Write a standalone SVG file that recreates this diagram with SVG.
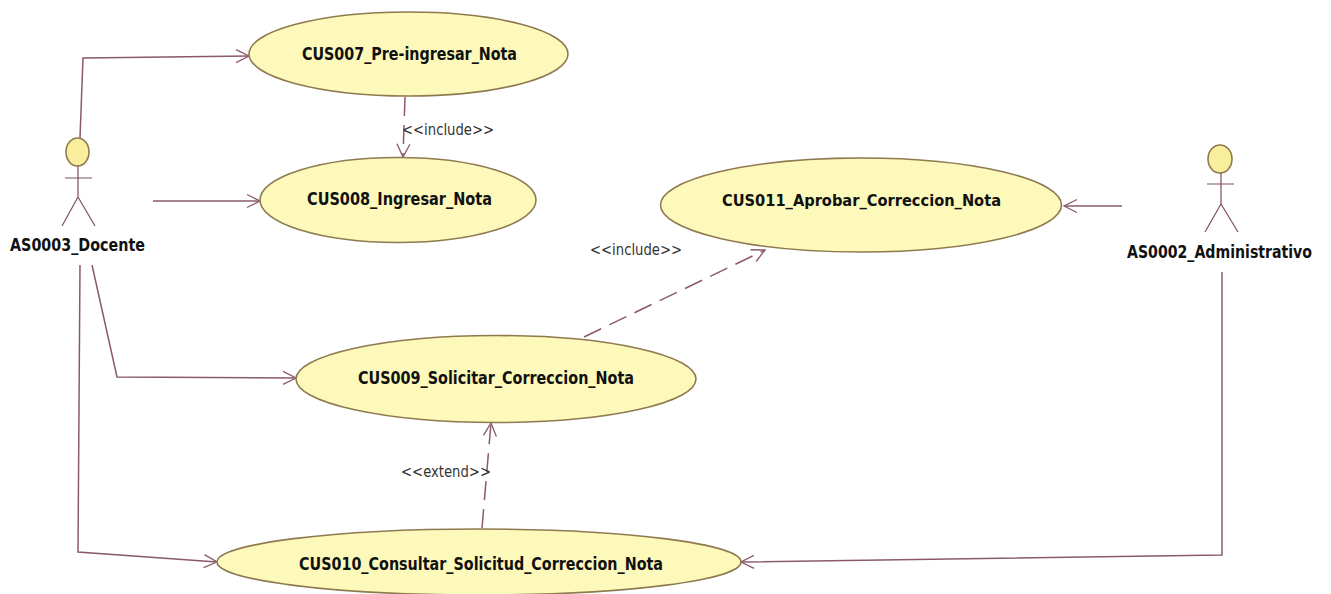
<svg xmlns="http://www.w3.org/2000/svg" width="1331" height="594" viewBox="0 0 1331 594">
<style>
.bg{fill:#fff}
.uc,.head{fill:#fdf9bb;stroke:#8f7a50;stroke-width:1.6}
.head{fill:#f9ee9c}
.c{fill:none;stroke:#8a5a68;stroke-width:1.5}
.d{stroke-dasharray:19 9}
.stick{fill:none;stroke:#7f5058;stroke-width:1.2}
.t{font-family:"DejaVu Sans Condensed","DejaVu Sans","Noto Sans",sans-serif;font-stretch:condensed;font-weight:700;font-size:17px;fill:#111;dominant-baseline:middle}
.s{font-size:15px}
.l{font-family:"DejaVu Sans Condensed","DejaVu Sans","Noto Sans",sans-serif;font-stretch:condensed;font-size:16px;fill:#333;dominant-baseline:middle}
</style>
<defs>
<marker id="a" viewBox="-14 -8 16 16" markerWidth="16" markerHeight="16" refX="0" refY="0" orient="auto" markerUnits="userSpaceOnUse">
<path d="M-13,-6.5 L0,0 L-13,6.5" fill="none" stroke="#8a5a68" stroke-width="1.3"/>
</marker>
</defs>
<rect class="bg" width="1331" height="594"/>
<g id="connectors">
<path class="c" marker-end="url(#a)" d="M80,138 L83,58 L249,56"/>
<path class="c" marker-end="url(#a)" d="M153,201 L260,201"/>
<path class="c" marker-end="url(#a)" d="M92,265 L117,377 L296,378"/>
<path class="c" marker-end="url(#a)" d="M80,265 L78,552 L217,562"/>
<path class="c" marker-end="url(#a)" d="M1122,206 L1064,206"/>
<path class="c" marker-end="url(#a)" d="M1222,272 L1222,555 L741,562"/>
<path class="c d" marker-end="url(#a)" d="M405,97 L403,157"/>
<path class="c d" marker-end="url(#a)" d="M584,337 L765,250"/>
<path class="c d" marker-end="url(#a)" d="M482,528 L491,423"/>
<text class="l" x="402" y="130" textLength="92" lengthAdjust="spacingAndGlyphs">&lt;&lt;include&gt;&gt;</text>
<text class="l" x="590" y="250" textLength="92" lengthAdjust="spacingAndGlyphs">&lt;&lt;include&gt;&gt;</text>
<text class="l" x="401" y="472" textLength="90" lengthAdjust="spacingAndGlyphs">&lt;&lt;extend&gt;&gt;</text>
</g>
<g id="CUS007"><ellipse class="uc" cx="408.5" cy="54" rx="159.5" ry="42"/><text class="t" x="302" y="55" textLength="215" lengthAdjust="spacingAndGlyphs">CUS007_Pre-ingresar_Nota</text></g>
<g id="CUS008"><ellipse class="uc" cx="398" cy="200" rx="138" ry="42.5"/><text class="t" x="307" y="200" textLength="185" lengthAdjust="spacingAndGlyphs">CUS008_Ingresar_Nota</text></g>
<g id="CUS011"><ellipse class="uc" cx="861" cy="205" rx="200.5" ry="47"/><text class="t s" x="722" y="201" textLength="279" lengthAdjust="spacingAndGlyphs">CUS011_Aprobar_Correccion_Nota</text></g>
<g id="CUS009"><ellipse class="uc" cx="496" cy="379" rx="200" ry="43.5"/><text class="t" x="358" y="379" textLength="276" lengthAdjust="spacingAndGlyphs">CUS009_Solicitar_Correccion_Nota</text></g>
<g id="CUS010"><ellipse class="uc" cx="479" cy="562" rx="262" ry="33"/><text class="t" x="299" y="565" textLength="364" lengthAdjust="spacingAndGlyphs">CUS010_Consultar_Solicitud_Correccion_Nota</text></g>
<g id="AS0003">
<ellipse class="head" cx="77.5" cy="152" rx="11.5" ry="14"/>
<path class="stick" d="M78,166 V197 M65,178 H92 M78,197 L62,226 M78,197 L95,226"/>
<text class="t" x="10" y="246" textLength="135" lengthAdjust="spacingAndGlyphs">AS0003_Docente</text>
</g>
<g id="AS0002">
<ellipse class="head" cx="1220" cy="159" rx="12" ry="14"/>
<path class="stick" d="M1221,173 V204 M1207,184 H1234 M1221,204 L1205,232 M1221,204 L1238,232"/>
<text class="t" x="1127" y="253" textLength="185" lengthAdjust="spacingAndGlyphs">AS0002_Administrativo</text>
</g>
</svg>
